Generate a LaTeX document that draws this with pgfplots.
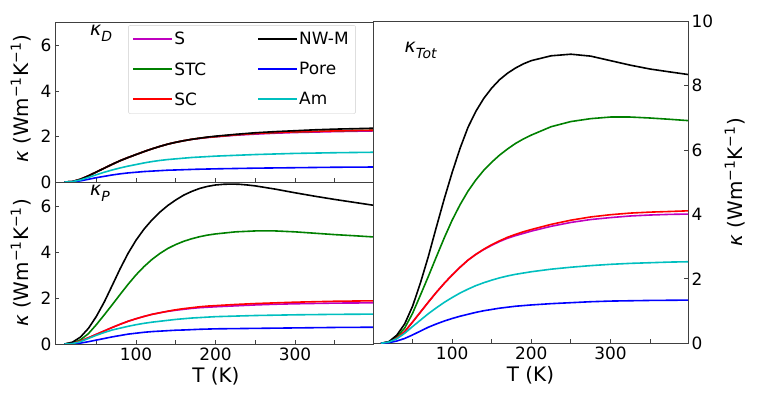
\documentclass[border=0pt]{standalone}
\usepackage{fontspec}
\setmainfont{DejaVu Sans}
\usepackage{pgfplots}
\pgfplotsset{compat=1.18}
\definecolor{mplm}{rgb}{0.75,0,0.75}
\definecolor{mplg}{rgb}{0,0.5,0}
\definecolor{mplc}{rgb}{0,0.75,0.75}
\definecolor{spine}{gray}{0.25}
\newcommand{\kap}{{\itshape κ}}
\newcommand{\ylab}{\kap\ (Wm\textsuperscript{−1}K\textsuperscript{−1})}
\newcommand{\klab}[1]{{\fontsize{19}{22}\selectfont\itshape κ\raisebox{-0.3em}{\fontsize{14}{16}\selectfont #1}}}
\pgfplotsset{
  swatch/.style={legend image code/.code={\node[inner sep=0pt,anchor=west] at (0bp,0bp) {\textcolor{#1}{\rule[-0.8bp]{39bp}{1.6bp}}};}},
  base/.style={scale only axis, xmin=-2, xmax=398,
    tick align=inside, major tick length=4bp, minor tick length=4bp,
    xtick={100,200,300}, minor xtick={50,150,250,350},
    xtick pos=bottom,
    axis line style={spine, line width=0.8bp},
    every tick/.style={spine, line width=0.8bp},
    tick label style={font=\fontsize{17}{20}\selectfont},
    label style={font=\fontsize{20}{24}\selectfont},
    /pgf/number format/assume math mode=true,
    every axis plot/.append style={line width=1.6bp, no markers},
    clip=true,
  }
}
\begin{document}
\begin{tikzpicture}
\path[use as bounding box] (0,0) rectangle (765bp,400bp);

% ---------------- top left: kappa_D ----------------
\begin{axis}[base, at={(55bp,218bp)}, anchor=south west,
  width=318bp, height=160bp, ymin=0, ymax=7.05, ytick={0,2,4,6},
  ytick pos=left, xticklabels={},
  ylabel={\ylab}, ylabel style={at={(rel axis cs:-0.107,0.52)}, anchor=center},
  transpose legend,
  legend columns=3,
  legend cell align=left,
  legend style={at={(0.23,0.98)}, anchor=north west, draw=black!20, rounded corners=2bp,
    font=\fontsize{17}{20}\selectfont, row sep=12bp, inner sep=5bp,
    /tikz/every even column/.append style={column sep=50bp}},
]
% S
\addplot[mplm, swatch=mplm] coordinates {(10,0) (20,0.02) (30,0.12) (40,0.27) (50,0.44) (60,0.61) (70,0.78) (80,0.94) (90,1.08) (100,1.21) (110,1.34) (120,1.46) (130,1.57) (140,1.67) (150,1.75) (160,1.82) (170,1.88) (180,1.92) (190,1.96) (200,1.99) (225,2.06) (250,2.11) (275,2.15) (300,2.18) (350,2.22) (398,2.25)};
\addlegendentry{S}
% STC
\addplot[mplg, swatch=mplg] coordinates {(10,0) (20,0.02) (30,0.12) (40,0.27) (50,0.44) (60,0.61) (70,0.78) (80,0.94) (90,1.08) (100,1.21) (110,1.34) (120,1.46) (130,1.57) (140,1.67) (150,1.75) (160,1.82) (170,1.88) (180,1.93) (190,1.97) (200,2.0) (225,2.08) (250,2.14) (275,2.18) (300,2.21) (325,2.23) (350,2.25) (375,2.27) (398,2.28)};
\addlegendentry{STC}
% SC
\addplot[red, swatch=red] coordinates {(10,0) (20,0.02) (30,0.12) (40,0.27) (50,0.44) (60,0.61) (70,0.78) (80,0.94) (90,1.08) (100,1.21) (110,1.34) (120,1.46) (130,1.57) (140,1.67) (150,1.75) (160,1.82) (170,1.88) (180,1.93) (190,1.97) (200,2.0) (225,2.08) (250,2.14) (275,2.18) (300,2.21) (325,2.23) (350,2.25) (375,2.27) (398,2.28)};
\addlegendentry{SC}
% NW-M
\addplot[black, swatch=black] coordinates {(10,0) (20,0.02) (30,0.12) (40,0.27) (50,0.44) (60,0.61) (70,0.78) (80,0.94) (90,1.08) (100,1.21) (110,1.34) (120,1.46) (130,1.57) (140,1.67) (150,1.75) (160,1.82) (170,1.88) (180,1.93) (190,1.98) (200,2.02) (225,2.1) (250,2.17) (275,2.22) (300,2.26) (325,2.3) (350,2.33) (375,2.35) (398,2.37)};
\addlegendentry{NW-M}
% Pore
\addplot[blue, swatch=blue] coordinates {(10,0) (20,0.01) (30,0.05) (40,0.12) (50,0.19) (60,0.25) (70,0.31) (80,0.36) (90,0.4) (100,0.43) (110,0.46) (120,0.48) (130,0.5) (140,0.52) (150,0.53) (175,0.56) (200,0.58) (250,0.61) (300,0.63) (350,0.65) (398,0.66)};
\addlegendentry{Pore}
% Am
\addplot[mplc, swatch=mplc] coordinates {(10,0) (20,0.02) (30,0.09) (40,0.2) (50,0.32) (60,0.43) (70,0.53) (80,0.62) (90,0.7) (100,0.77) (110,0.84) (120,0.9) (130,0.95) (140,0.99) (150,1.02) (160,1.05) (170,1.08) (180,1.1) (190,1.12) (200,1.14) (250,1.21) (300,1.26) (350,1.29) (398,1.31)};
\addlegendentry{Am}
\node[anchor=north west, inner sep=0pt] at (rel axis cs:0.11,0.98) {\klab{D}};
\end{axis}

% ---------------- bottom left: kappa_P ----------------
\begin{axis}[base, at={(55bp,56bp)}, anchor=south west,
  width=318bp, height=162bp, ymin=0, ymax=7.05, ytick={0,2,4,6},
  ytick pos=left,
  xlabel={T (K)}, xlabel style={at={(rel axis cs:0.506,-0.198)}, anchor=center},
  ylabel={\ylab}, ylabel style={at={(rel axis cs:-0.107,0.5)}, anchor=center},
]
% S
\addplot[mplm] coordinates {(10,0) (20,0.03) (30,0.13) (40,0.27) (50,0.42) (60,0.57) (70,0.72) (80,0.86) (90,0.99) (100,1.1) (110,1.2) (120,1.29) (130,1.36) (140,1.42) (150,1.47) (160,1.51) (170,1.55) (180,1.58) (190,1.6) (200,1.62) (225,1.66) (250,1.7) (275,1.73) (300,1.75) (350,1.78) (398,1.79)};
% STC
\addplot[mplg] coordinates {(10,0) (20,0.04) (30,0.18) (40,0.45) (50,0.84) (60,1.27) (70,1.71) (80,2.16) (90,2.6) (100,3.01) (110,3.37) (120,3.68) (130,3.94) (140,4.16) (150,4.33) (160,4.47) (170,4.58) (180,4.67) (190,4.74) (200,4.79) (225,4.88) (250,4.92) (275,4.92) (300,4.88) (325,4.82) (350,4.76) (375,4.71) (398,4.66)};
% SC
\addplot[red] coordinates {(10,0) (20,0.03) (30,0.13) (40,0.27) (50,0.42) (60,0.57) (70,0.72) (80,0.86) (90,0.99) (100,1.1) (110,1.2) (120,1.29) (130,1.36) (140,1.43) (150,1.49) (160,1.54) (170,1.58) (180,1.62) (190,1.65) (200,1.67) (225,1.72) (250,1.76) (275,1.79) (300,1.82) (350,1.86) (398,1.88)};
% NW-M
\addplot[black] coordinates {(10,0) (20,0.08) (30,0.3) (40,0.68) (50,1.2) (60,1.83) (70,2.55) (80,3.28) (90,3.95) (100,4.52) (110,5.0) (120,5.4) (130,5.74) (140,6.03) (150,6.27) (160,6.48) (170,6.64) (180,6.77) (190,6.86) (200,6.92) (210,6.95) (220,6.96) (230,6.95) (240,6.92) (250,6.88) (275,6.74) (300,6.58) (325,6.43) (350,6.29) (375,6.16) (398,6.04)};
% Pore
\addplot[blue] coordinates {(10,0) (20,0.01) (30,0.04) (40,0.1) (50,0.17) (60,0.24) (70,0.31) (80,0.37) (90,0.43) (100,0.47) (110,0.51) (120,0.54) (130,0.56) (140,0.58) (150,0.6) (160,0.61) (180,0.64) (200,0.66) (250,0.68) (300,0.7) (350,0.72) (398,0.73)};
% Am
\addplot[mplc] coordinates {(10,0) (20,0.02) (30,0.1) (40,0.24) (50,0.38) (60,0.5) (70,0.61) (80,0.69) (90,0.77) (100,0.84) (110,0.9) (120,0.95) (130,0.99) (140,1.03) (150,1.07) (160,1.1) (170,1.13) (180,1.15) (190,1.17) (200,1.19) (250,1.24) (300,1.27) (350,1.29) (398,1.3)};
\node[anchor=north west, inner sep=0pt] at (rel axis cs:0.11,0.98) {\klab{P}};
\end{axis}

% ---------------- right: kappa_Tot ----------------
\begin{axis}[base, at={(373bp,56.7bp)}, anchor=south west, xmin=0, xmax=398,
  width=315bp, height=322.3bp, ymin=0, ymax=10, ytick={0,2,4,6,8,10},
  ytick pos=right, yticklabel pos=right,
  xlabel={T (K)}, xlabel style={at={(rel axis cs:0.5,-0.1)}, anchor=center},
  ylabel={\ylab}, ylabel style={at={(rel axis cs:1.149,0.5)}, anchor=center},
]
% S
\addplot[mplm] coordinates {(10,0) (20,0.04) (30,0.16) (40,0.36) (50,0.66) (60,0.97) (70,1.28) (80,1.58) (90,1.86) (100,2.12) (110,2.36) (120,2.58) (130,2.76) (140,2.91) (150,3.04) (160,3.16) (170,3.26) (180,3.34) (190,3.41) (200,3.48) (225,3.63) (250,3.75) (275,3.84) (300,3.9) (325,3.95) (350,3.98) (375,4.0) (398,4.01)};
% STC
\addplot[mplg] coordinates {(10,0) (20,0.04) (30,0.2) (40,0.47) (50,0.93) (60,1.5) (70,2.08) (80,2.68) (90,3.27) (100,3.82) (110,4.3) (120,4.72) (130,5.07) (140,5.37) (150,5.62) (160,5.84) (170,6.03) (180,6.2) (190,6.34) (200,6.46) (225,6.72) (250,6.88) (275,6.97) (300,7.02) (325,7.02) (350,6.99) (375,6.95) (398,6.91)};
% SC
\addplot[red] coordinates {(10,0) (20,0.04) (30,0.16) (40,0.36) (50,0.66) (60,0.97) (70,1.28) (80,1.58) (90,1.86) (100,2.12) (110,2.36) (120,2.58) (130,2.76) (140,2.92) (150,3.06) (160,3.18) (170,3.29) (180,3.38) (190,3.46) (200,3.53) (225,3.69) (250,3.82) (275,3.92) (300,3.99) (325,4.04) (350,4.07) (375,4.09) (398,4.11)};
% NW-M
\addplot[black] coordinates {(10,0) (20,0.05) (30,0.25) (40,0.6) (50,1.15) (60,1.88) (70,2.7) (80,3.6) (90,4.48) (100,5.3) (110,6.05) (120,6.7) (130,7.2) (140,7.6) (150,7.92) (160,8.18) (170,8.38) (180,8.54) (190,8.67) (200,8.77) (225,8.92) (250,8.97) (275,8.91) (300,8.77) (325,8.63) (350,8.51) (375,8.42) (398,8.34)};
% Pore
\addplot[blue] coordinates {(10,0) (20,0.02) (30,0.07) (40,0.15) (50,0.26) (60,0.38) (70,0.5) (80,0.6) (90,0.69) (100,0.77) (110,0.84) (120,0.9) (130,0.96) (140,1.01) (150,1.05) (160,1.09) (170,1.12) (180,1.15) (190,1.17) (200,1.19) (225,1.23) (250,1.26) (275,1.29) (300,1.31) (350,1.33) (398,1.34)};
% Am
\addplot[mplc] coordinates {(10,0) (20,0.04) (30,0.14) (40,0.31) (50,0.52) (60,0.72) (70,0.92) (80,1.1) (90,1.27) (100,1.42) (110,1.56) (120,1.68) (130,1.79) (140,1.88) (150,1.96) (160,2.03) (170,2.09) (180,2.14) (190,2.18) (200,2.22) (225,2.3) (250,2.36) (275,2.41) (300,2.45) (325,2.48) (350,2.5) (375,2.52) (398,2.53)};
\node[anchor=north west, inner sep=0pt] at (rel axis cs:0.10,0.935) {\klab{Tot}};
\end{axis}
\end{tikzpicture}
\end{document}
